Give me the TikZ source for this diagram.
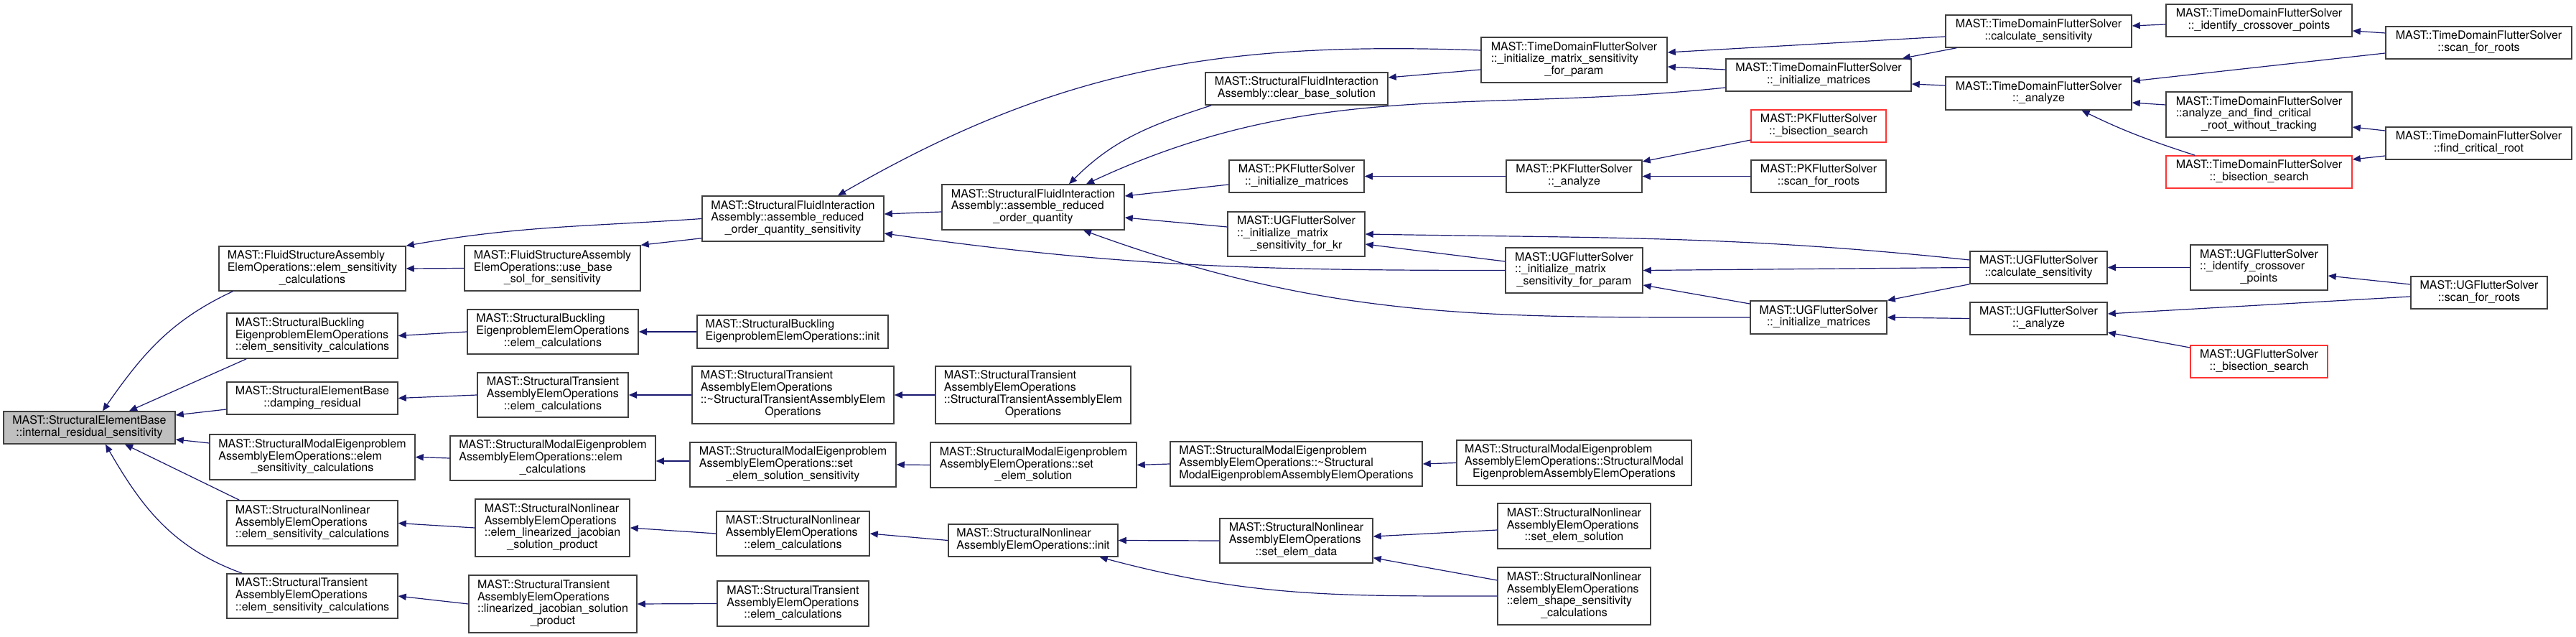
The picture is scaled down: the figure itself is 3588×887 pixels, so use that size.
\documentclass[tikz,border=0pt]{standalone}
\usepackage{fontspec}
\setmainfont{TeX Gyre Heros}
\usepackage{xcolor}
\usepackage{tikz}
\usetikzlibrary{arrows.meta,calc}

\definecolor{edgeblue}{HTML}{191970}
\definecolor{nodeline}{HTML}{404040}
\definecolor{trunc}{HTML}{FF3333}

% Label: left lines, last line centred.
\newcommand{\fnlab}[1]{\begin{tabular}{@{}l@{}}#1\end{tabular}}
\newcommand{\lastln}[1]{\multicolumn{1}{@{}c@{}}{#1}}
% Helper macro: options, name, x, y, width, height, label (pixels).
\newcommand{\fnode}[7][]{%
  \node[fn, minimum width=#5*0.5pt, minimum height=#6*0.5pt, #1] (#2) at (#3,-#4) {\fnlab{#7}};
}

\begin{document}
\begin{tikzpicture}[
  x=0.5pt,
  y=0.5pt,
  fn/.style={draw=nodeline, line width=0.75pt, fill=white, inner sep=0pt, font=\fontsize{8}{8.4}\selectfont},
  focus/.style={fill=gray!50},
  truncated/.style={draw=trunc},
  call/.style={draw=edgeblue, line width=0.6pt, {Triangle[length=5.5pt,width=4.6pt]}-},
]
\useasboundingbox (0,0) rectangle (3588,-887);

% Root.
\fnode[focus]{root}{124.5}{595.5}{239}{45}{MAST::StructuralElementBase\\\lastln{::internal\_residual\_sensitivity}}

% Column 1.
\fnode{fsaEsc}{435}{374}{260}{62}{MAST::FluidStructureAssembly\\ElemOperations::elem\_sensitivity\\\lastln{\_calculations}}
\fnode{sbeEsc}{435}{467.5}{238}{63}{MAST::StructuralBuckling\\EigenproblemElemOperations\\\lastln{::elem\_sensitivity\_calculations}}
\fnode{sebDamp}{435}{554.5}{238}{45}{MAST::StructuralElementBase\\\lastln{::damping\_residual}}
\fnode{smeEsc}{435}{636.5}{286}{63}{MAST::StructuralModalEigenproblem\\AssemblyElemOperations::elem\\\lastln{\_sensitivity\_calculations}}
\fnode{snaEsc}{435}{728.5}{238}{63}{MAST::StructuralNonlinear\\AssemblyElemOperations\\\lastln{::elem\_sensitivity\_calculations}}
\fnode{staEsc}{435}{830}{238}{62}{MAST::StructuralTransient\\AssemblyElemOperations\\\lastln{::elem\_sensitivity\_calculations}}

% Column 2.
\fnode{useBase}{769.5}{373.5}{245}{63}{MAST::FluidStructureAssembly\\ElemOperations::use\_base\\\lastln{\_sol\_for\_sensitivity}}
\fnode{sbeElem}{770}{462}{238}{62}{MAST::StructuralBuckling\\EigenproblemElemOperations\\\lastln{::elem\_calculations}}
\fnode{staElem}{770}{550}{210}{62}{MAST::StructuralTransient\\AssemblyElemOperations\\\lastln{::elem\_calculations}}
\fnode{smeElem}{770}{638}{286}{62}{MAST::StructuralModalEigenproblem\\AssemblyElemOperations::elem\\\lastln{\_calculations}}
\fnode{snaJac}{769.5}{735}{215}{80}{MAST::StructuralNonlinear\\AssemblyElemOperations\\::elem\_linearized\_jacobian\\\lastln{\_solution\_product}}
\fnode{staJac}{770}{841}{234}{80}{MAST::StructuralTransient\\AssemblyElemOperations\\::linearized\_jacobian\_solution\\\lastln{\_product}}

% Column 3.
\fnode{sfiaSens}{1104.5}{304.5}{253}{63}{MAST::StructuralFluidInteraction\\Assembly::assemble\_reduced\\\lastln{\_order\_quantity\_sensitivity}}
\fnode{sbeInit}{1104}{462}{266}{46}{MAST::StructuralBuckling\\\lastln{EigenproblemElemOperations::init}}
\fnode{staDtor}{1104.5}{550}{281}{80}{MAST::StructuralTransient\\AssemblyElemOperations\\::\textasciitilde StructuralTransientAssemblyElem\\\lastln{Operations}}
\fnode{smeSensSol}{1104.5}{647}{287}{62}{MAST::StructuralModalEigenproblem\\AssemblyElemOperations::set\\\lastln{\_elem\_solution\_sensitivity}}
\fnode{snaElem}{1104.5}{743}{213}{62}{MAST::StructuralNonlinear\\AssemblyElemOperations\\\lastln{::elem\_calculations}}
\fnode{staElem3}{1104.5}{840.5}{211}{63}{MAST::StructuralTransient\\AssemblyElemOperations\\\lastln{::elem\_calculations}}

% Column 4.
\fnode{sfiaQty}{1439}{288.5}{254}{63}{MAST::StructuralFluidInteraction\\Assembly::assemble\_reduced\\\lastln{\_order\_quantity}}
\fnode{staCtor}{1439}{550}{272}{80}{MAST::StructuralTransient\\AssemblyElemOperations\\::StructuralTransientAssemblyElem\\\lastln{Operations}}
\fnode{smeSol}{1439.5}{647.5}{287}{63}{MAST::StructuralModalEigenproblem\\AssemblyElemOperations::set\\\lastln{\_elem\_solution}}
\fnode{snaInit}{1439}{752.5}{236}{45}{MAST::StructuralNonlinear\\\lastln{AssemblyElemOperations::init}}

% Column 5.
\fnode{sfiaClear}{1806}{123.5}{254}{45}{MAST::StructuralFluidInteraction\\\lastln{Assembly::clear\_base\_solution}}
\fnode{pkInit}{1806}{245.5}{188}{45}{MAST::PKFlutterSolver\\\lastln{::\_initialize\_matrices}}
\fnode{ugKr}{1805.5}{326}{191}{62}{MAST::UGFlutterSolver\\::\_initialize\_matrix\\\lastln{\_sensitivity\_for\_kr}}
\fnode{smeDtor}{1805.5}{646}{351}{62}{MAST::StructuralModalEigenproblem\\AssemblyElemOperations::\textasciitilde Structural\\\lastln{ModalEigenproblemAssemblyElemOperations}}
\fnode{snaData}{1805.5}{753}{213}{62}{MAST::StructuralNonlinear\\AssemblyElemOperations\\\lastln{::set\_elem\_data}}

% Column 6.
\fnode{tdSensParam}{2192.5}{83.5}{259}{63}{MAST::TimeDomainFlutterSolver\\::\_initialize\_matrix\_sensitivity\\\lastln{\_for\_param}}
\fnode{pkAnalyze}{2192.5}{245.5}{189}{45}{MAST::PKFlutterSolver\\\lastln{::\_analyze}}
\fnode{ugSensParam}{2192.5}{376.5}{191}{63}{MAST::UGFlutterSolver\\::\_initialize\_matrix\\\lastln{\_sensitivity\_for\_param}}
\fnode{smeCtor}{2192.5}{644.5}{327}{63}{MAST::StructuralModalEigenproblem\\AssemblyElemOperations::StructuralModal\\\lastln{EigenproblemAssemblyElemOperations}}
\fnode{snaSetSol}{2192.5}{732.5}{213}{63}{MAST::StructuralNonlinear\\AssemblyElemOperations\\\lastln{::set\_elem\_solution}}
\fnode{snaShape}{2192.5}{830}{213}{80}{MAST::StructuralNonlinear\\AssemblyElemOperations\\::elem\_shape\_sensitivity\\\lastln{\_calculations}}

% Column 7.
\fnode{tdInit}{2533}{104.5}{258}{45}{MAST::TimeDomainFlutterSolver\\\lastln{::\_initialize\_matrices}}
\fnode[truncated]{pkBisect}{2533}{175.5}{188}{45}{MAST::PKFlutterSolver\\\lastln{::\_bisection\_search}}
\fnode{pkScan}{2533}{245.5}{188}{45}{MAST::PKFlutterSolver\\\lastln{::scan\_for\_roots}}
\fnode{ugInit}{2533}{442}{190}{46}{MAST::UGFlutterSolver\\\lastln{::\_initialize\_matrices}}

% Column 8.
\fnode{tdCalc}{2839.5}{43.5}{259}{45}{MAST::TimeDomainFlutterSolver\\\lastln{::calculate\_sensitivity}}
\fnode{tdAnalyze}{2839.5}{130}{259}{46}{MAST::TimeDomainFlutterSolver\\\lastln{::\_analyze}}
\fnode{ugCalc}{2839.5}{372.5}{191}{45}{MAST::UGFlutterSolver\\\lastln{::calculate\_sensitivity}}
\fnode{ugAnalyze}{2839.5}{443.5}{191}{45}{MAST::UGFlutterSolver\\\lastln{::\_analyze}}

% Column 9.
\fnode{tdCross}{3146.5}{28.5}{259}{45}{MAST::TimeDomainFlutterSolver\\\lastln{::\_identify\_crossover\_points}}
\fnode{tdNoTrack}{3146.5}{159.5}{259}{63}{MAST::TimeDomainFlutterSolver\\::analyze\_and\_find\_critical\\\lastln{\_root\_without\_tracking}}
\fnode[truncated]{tdBisect}{3146.5}{239.5}{259}{45}{MAST::TimeDomainFlutterSolver\\\lastln{::\_bisection\_search}}
\fnode{ugCross}{3146.5}{372.5}{191}{63}{MAST::UGFlutterSolver\\::\_identify\_crossover\\\lastln{\_points}}
\fnode[truncated]{ugBisect}{3146.5}{503.5}{191}{45}{MAST::UGFlutterSolver\\\lastln{::\_bisection\_search}}

% Column 10.
\fnode{tdScan}{3452.5}{59.5}{259}{45}{MAST::TimeDomainFlutterSolver\\\lastln{::scan\_for\_roots}}
\fnode{tdFind}{3452.5}{199.5}{259}{45}{MAST::TimeDomainFlutterSolver\\\lastln{::find\_critical\_root}}
\fnode{ugScan}{3453}{407.5}{190}{45}{MAST::UGFlutterSolver\\\lastln{::scan\_for\_roots}}

% Callers of the root.
\draw[call] ($(root.north)+(18.5,0)$) to[out=55,in=205] ($(fsaEsc.south west)+(20,0)$);
\draw[call] ($(root.north)+(55.5,0)$) -- ($(sbeEsc.south west)+(28,0)$);
\draw[call] ($(root.east)+(0,17.5)$) -- ($(sebDamp.west)+(0,-15.5)$);
\draw[call] ($(root.east)+(0,-16.5)$) -- ($(smeEsc.west)+(0,19.5)$);
\draw[call] ($(root.south)+(49.5,0)$) -- ($(snaEsc.north west)+(18,0)$);
\draw[call] ($(root.south)+(22.5,0)$) to[out=-60,in=160] ($(staEsc.north west)+(22,0)$);

% Element operation chains.
\draw[call] (fsaEsc.east) -- (useBase.west);
\draw[call] (fsaEsc.north east) to[out=10,in=184] (sfiaSens.west);
\draw[call] (useBase.north east) -- ($(sfiaSens.south west)+(0,5)$);
\draw[call] (sbeEsc.east) -- (sbeElem.west);
\draw[call] (sbeElem.east) -- (sbeInit.west);
\draw[call] (sebDamp.east) -- (staElem.west);
\draw[call] (staElem.east) -- (staDtor.west);
\draw[call] (staDtor.east) -- (staCtor.west);
\draw[call] (smeEsc.east) -- (smeElem.west);
\draw[call] ($(smeElem.east)+(0,-4)$) -- ($(smeSensSol.west)+(0,5)$);
\draw[call] (smeSensSol.east) -- (smeSol.west);
\draw[call] (smeSol.east) -- (smeDtor.west);
\draw[call] (smeDtor.east) -- (smeCtor.west);
\draw[call] (snaEsc.east) -- (snaJac.west);
\draw[call] (snaJac.east) -- (snaElem.west);
\draw[call] (snaElem.east) -- (snaInit.west);
\draw[call] (snaInit.east) -- (snaData.west);
\draw[call] ($(snaInit.south east)+(-26,0)$) to[out=-15,in=180] (snaShape.west);
\draw[call] ($(snaData.east)+(0,6)$) -- ($(snaSetSol.west)+(0,-5.5)$);
\draw[call] ($(snaData.south east)+(0,8)$) -- ($(snaShape.west)+(0,22)$);
\draw[call] (staEsc.east) -- (staJac.west);
\draw[call] (staJac.east) -- (staElem3.west);

% Fluid interaction and flutter solvers.
\draw[call] ($(sfiaSens.east)+(0,6.5)$) -- ($(sfiaQty.west)+(0,-6.5)$);
\draw[call] ($(sfiaSens.east)+(0,-20.5)$) to[out=-8,in=180] (ugSensParam.west);
\draw[call] ($(sfiaSens.north)+(62.5,0)$) to[out=30,in=178] ($(tdSensParam.west)+(0,13.5)$);
\draw[call] ($(sfiaQty.north)+(50,0)$) to[out=45,in=198] ($(sfiaClear.south west)+(9,0)$);
\draw[call] ($(sfiaQty.north)+(74,0)$) to[out=25,in=186] ($(tdInit.west)+(0,-17.5)$);
\draw[call] ($(sfiaQty.east)+(0,15.5)$) -- ($(pkInit.west)+(0,-11.5)$);
\draw[call] ($(sfiaQty.east)+(0,-14.5)$) -- ($(ugKr.west)+(0,10)$);
\draw[call] ($(sfiaQty.south)+(70,0)$) to[out=-20,in=180] (ugInit.west);
\draw[call] ($(sfiaClear.east)+(0,15.5)$) -- ($(tdSensParam.west)+(0,-13.5)$);
\draw[call] (pkInit.east) -- (pkAnalyze.west);
\draw[call] (ugKr.east) to[out=-1,in=174] ($(ugCalc.west)+(0,10.5)$);
\draw[call] ($(ugKr.east)+(0,-14)$) -- ($(ugSensParam.west)+(0,12.5)$);
\draw[call] (ugSensParam.east) -- (ugCalc.west);
\draw[call] ($(ugSensParam.east)+(0,-20.5)$) -- ($(ugInit.west)+(0,19)$);
\draw[call] ($(tdSensParam.east)+(0,10.5)$) -- ($(tdCalc.west)+(0,-7.5)$);
\draw[call] ($(tdSensParam.east)+(0,-9.5)$) -- ($(tdInit.west)+(0,7.5)$);
\draw[call] ($(pkAnalyze.east)+(0,20.5)$) -- ($(pkBisect.west)+(0,-19.5)$);
\draw[call] (pkAnalyze.east) -- (pkScan.west);
\draw[call] ($(tdInit.north east)+(-13,0)$) -- ($(tdCalc.south west)+(16,0)$);
\draw[call] ($(tdInit.east)+(0,-12.5)$) -- ($(tdAnalyze.west)+(0,11)$);
\draw[call] ($(tdCalc.east)+(0,7.5)$) -- ($(tdCross.west)+(0,-5.5)$);
\draw[call] ($(tdAnalyze.east)+(0,17)$) -- ($(tdScan.west)+(0,-14.5)$);
\draw[call] ($(tdAnalyze.east)+(0,-13)$) -- ($(tdNoTrack.west)+(0,13.5)$);
\draw[call] ($(tdAnalyze.south)+(60,0)$) to[out=-26,in=162] ($(tdBisect.north west)+(41,0)$);
\draw[call] ($(tdCross.east)+(0,-14.5)$) -- ($(tdScan.west)+(0,13.5)$);
\draw[call] ($(tdNoTrack.east)+(0,-17.5)$) -- ($(tdFind.west)+(0,17.5)$);
\draw[call] ($(tdBisect.east)+(0,17.5)$) -- ($(tdFind.west)+(0,-17.5)$);
\draw[call] (ugInit.north east) -- (ugCalc.south west);
\draw[call] (ugInit.east) -- (ugAnalyze.west);
\draw[call] (ugCalc.east) -- (ugCross.west);
\draw[call] ($(ugAnalyze.east)+(0,6.5)$) -- ($(ugScan.west)+(0,-5.5)$);
\draw[call] ($(ugAnalyze.east)+(0,-19.5)$) -- ($(ugBisect.west)+(0,19.5)$);
\draw[call] ($(ugCross.east)+(0,-11.5)$) -- ($(ugScan.west)+(0,11.5)$);

\end{tikzpicture}
\end{document}
